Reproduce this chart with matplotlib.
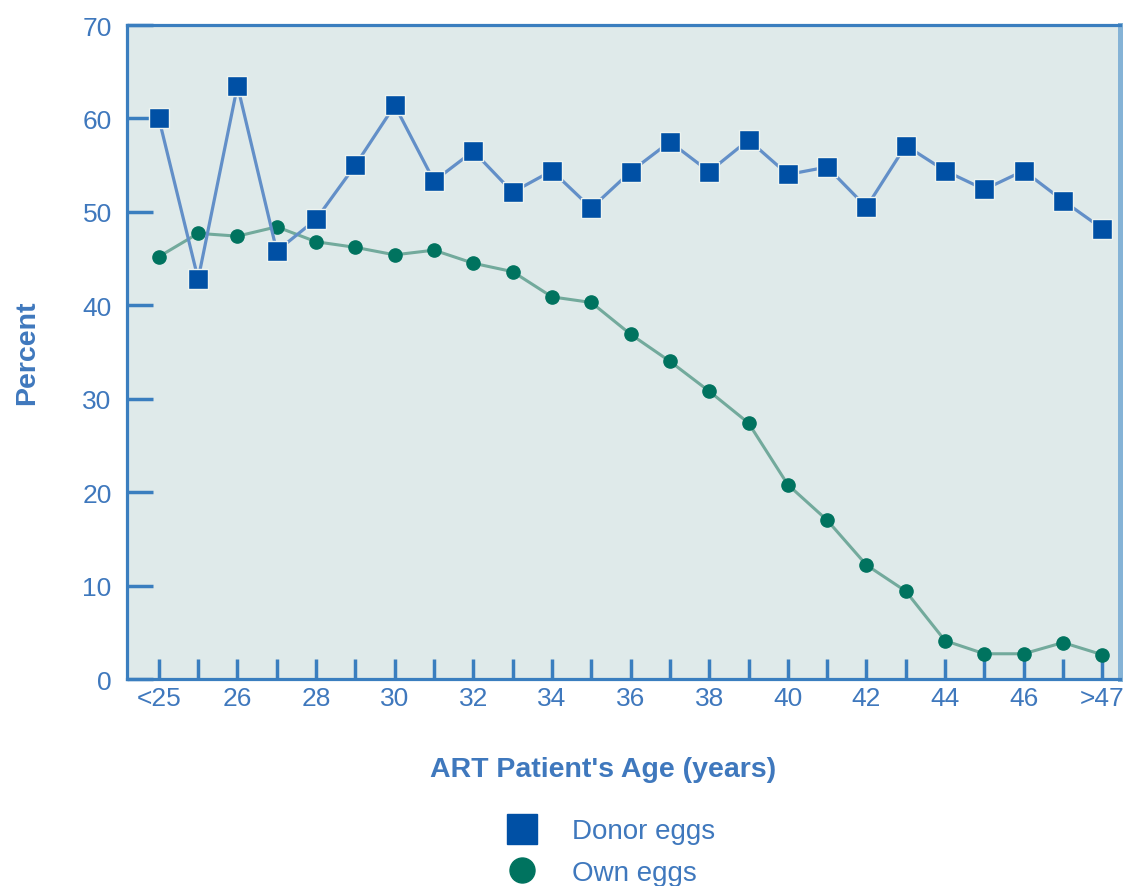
import numpy as np
import matplotlib.pyplot as plt
from matplotlib.lines import Line2D

ages = ["<25", "25", "26", "27", "28", "29", "30", "31", "32", "33", "34", "35", "36",
        "37", "38", "39", "40", "41", "42", "43", "44", "45", "46", "47", ">47"]
donor_eggs = [60.0, 42.8, 63.5, 45.8, 49.2, 55.0, 61.4, 53.3, 56.5, 52.1, 54.4, 50.4, 54.3,
              57.5, 54.3, 57.7, 54.0, 54.8, 50.5, 57.1, 54.4, 52.4, 54.4, 51.2, 48.2]
own_eggs = [45.2, 47.7, 47.4, 48.4, 46.8, 46.2, 45.4, 45.9, 44.5, 43.6, 40.9, 40.3, 36.9,
            34.0, 30.8, 27.4, 20.8, 17.0, 12.2, 9.4, 4.1, 2.7, 2.7, 3.9, 2.6]
yticks = [0, 10, 20, 30, 40, 50, 60, 70]

blue = "#3a7ebf"
text_blue = "#3f78bd"
bg = "#dfeaea"
donor_c = "#0050a5"
donor_line = "#628fc8"
own_c = "#00735f"
own_line = "#72aa9c"

plt.rcParams['font.family'] = ['Liberation Sans', 'DejaVu Sans']

fig = plt.figure(figsize=(11.32, 8.87), dpi=100)
ax = fig.add_axes([127 / 1132, 1 - 680 / 887, (1120 - 127) / 1132, (680 - 26) / 887])
ax.set_facecolor(bg)

x = np.arange(len(ages))
ax.plot(x, own_eggs, color=own_line, lw=2.2, marker='o', ms=9.5, mfc=own_c, mec=own_c, zorder=3)
ax.plot(x, donor_eggs, color=donor_line, lw=2.3, marker='s', ms=15, mfc=donor_c,
        mec="#eef4f0", mew=1.0, zorder=4)

ax.set_xlim(-0.81, 24.45)
ax.set_ylim(0, 70)

ax.set_xticks(x)
ax.set_xticklabels([a if i % 2 == 0 else "" for i, a in enumerate(ages)])
ax.set_yticks(yticks)

ax.tick_params(axis='y', direction='in', length=19, width=2.5, color=blue, pad=11,
               labelsize=19, labelcolor=text_blue)
ax.tick_params(axis='x', direction='in', length=14.5, width=2.5, color=blue, pad=5,
               labelsize=19, labelcolor=text_blue)

for side in ['left', 'bottom', 'top']:
    ax.spines[side].set_color(blue)
    ax.spines[side].set_linewidth(2.3)
ax.spines['right'].set_color("#85b3d6")
ax.spines['right'].set_linewidth(3.6)

fig.text(27 / 1132, 1 - 353 / 887, "Percent", rotation=90, ha='center', va='center',
         fontsize=20.5, fontweight='bold', color=text_blue)
fig.text(603 / 1132, 1 - 770 / 887, "ART Patient's Age (years)", ha='center', va='center',
         fontsize=20.5, fontweight='bold', color=text_blue)

handles = [Line2D([], [], ls='none', marker='s', ms=21, mfc=donor_c, mec=donor_c),
           Line2D([], [], ls='none', marker='o', ms=18, mfc=own_c, mec=own_c)]
fig.legend(handles, ["Donor eggs", "Own eggs"], loc='center',
           bbox_to_anchor=(605 / 1132, 1 - 853 / 887), frameon=False, fontsize=20,
           labelcolor=text_blue, handletextpad=0.8, labelspacing=0.55)

fig.savefig("out.png", dpi=100, facecolor='white')
